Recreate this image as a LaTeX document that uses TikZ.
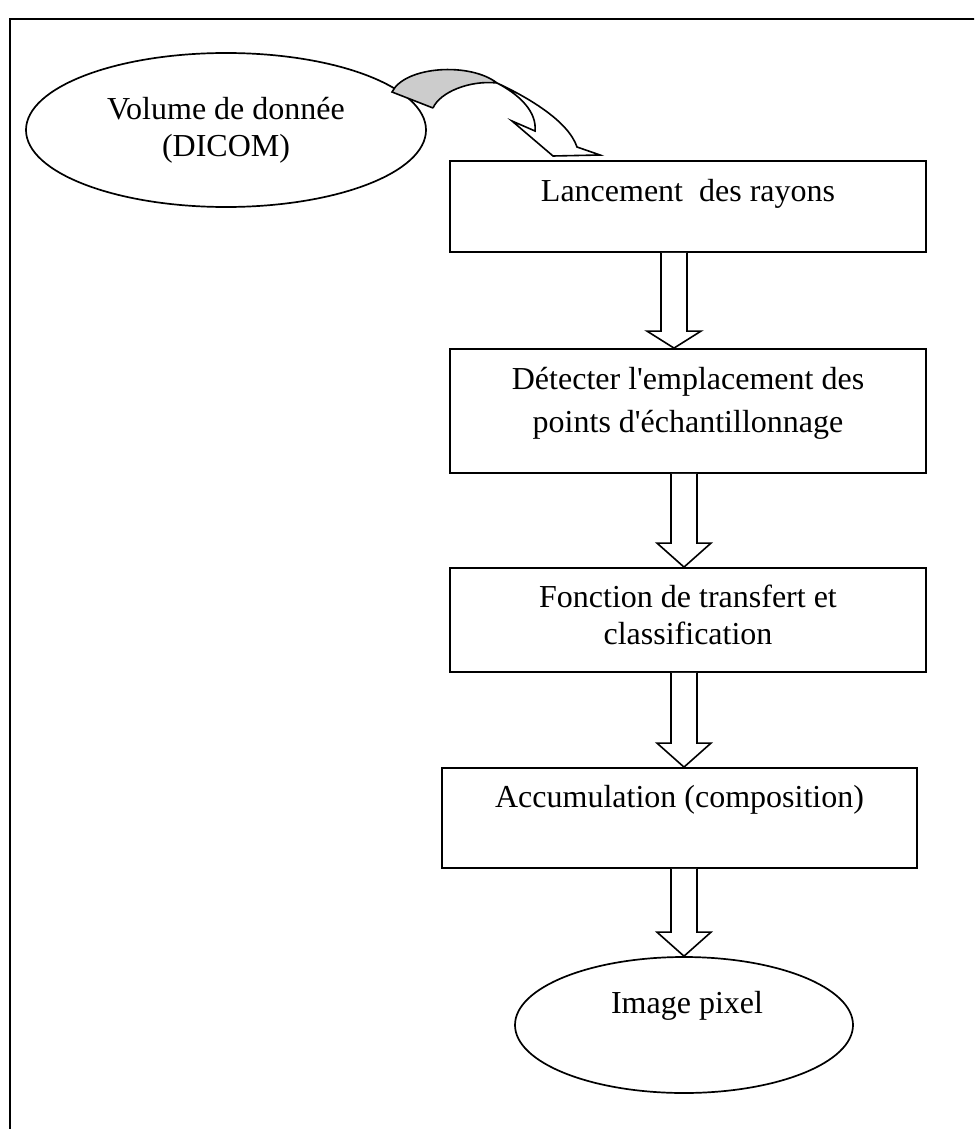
\documentclass[tikz,border=0pt]{standalone}
\usepackage{fontspec}
\setmainfont{Liberation Serif}[Ligatures=TeXOff]
\usetikzlibrary{shapes.geometric,calc}

\tikzset{
  stepbox/.style={draw, line width=1.8pt, rectangle, minimum width=476pt, inner sep=0pt},
  oval/.style={draw, line width=1.7pt, ellipse, inner sep=0pt, align=center},
  boxtext/.style={anchor=base, inner sep=0pt, align=center},
  hollow/.style={draw, line width=1.6pt, fill=white, line join=miter},
}

% hollow block arrow: from node, to node, axis coordinate, head length
\newcommand{\hollowdown}[4]{%
  \draw[hollow] ($(#3|-#1.south)+(-13,0)$) -- ($(#3|-#2.north)+(-13,-#4)$)
    -- ($(#3|-#2.north)+(-27,-#4)$) -- (#3|-#2.north)
    -- ($(#3|-#2.north)+(27,-#4)$) -- ($(#3|-#2.north)+(13,-#4)$)
    -- ($(#3|-#1.south)+(13,0)$);}

\begin{document}
\begin{tikzpicture}[x=1pt, y=-1pt, font=\fontsize{32}{37}\selectfont]
            \useasboundingbox (0,0) rectangle (974,1129);
            \clip (0,0) rectangle (974,1129);
            % outer frame
            \draw[line width=2pt] (10,19) rectangle (990,1140);

            % input data
            \node[oval, minimum width=400pt, minimum height=154pt] (vol) at (226,130) {Volume de donnée\\(DICOM)};

            % the steps (text sits at the top of each box)
            \node[stepbox, minimum height=91pt] (b1) at (688,206.5) {};
            \node[boxtext] at ($(b1.north)+(0,41)$) {Lancement~ des rayons};
            \node[stepbox, minimum height=124pt] (b2) at (688,411) {};
            \node[boxtext, font=\fontsize{32}{43}\selectfont] at ($(b2.north)+(0,84)$) {Détecter l'emplacement des\\points d'échantillonnage};
            \node[stepbox, minimum height=104pt] (b3) at (688,620) {};
            \node[boxtext] at ($(b3.north)+(0,77)$) {Fonction de transfert et\\classification};
            \node[stepbox, minimum width=475pt, minimum height=100pt] (b4) at (679.5,818) {};
            \node[boxtext] at ($(b4.north)+(0,40)$) {Accumulation (composition)};

            % output
            \node[oval, minimum width=338pt, minimum height=136pt] (img) at (684,1025) {};
            \node[boxtext] at ($(img.north)+(3,57)$) {Image pixel};

            % block arrows between the steps
            \coordinate (ax1) at (674,0);
            \coordinate (ax2) at (684,0);
            \hollowdown{b1}{b2}{ax1}{17}
            \hollowdown{b2}{b3}{ax2}{24}
            \hollowdown{b3}{b4}{ax2}{24}
            \hollowdown{b4}{img}{ax2}{24}

            % curved arrow from the data to the first step
            \fill[white] (497,83) .. controls (525,96) and (568,120) .. (577,147) -- (600,155) -- (553,156) -- (512,121) -- (535,131) .. controls (537,112) and (520,95) .. (497,83);
            \fill[gray!40] (392,92) .. controls (405,66) and (470,62) .. (497,83) .. controls (470,80) and (440,92) .. (433,108) -- cycle;
            \draw[line width=1.6pt, line join=miter] (433,108) -- (392,92) .. controls (405,66) and (470,62) .. (497,83)
              .. controls (525,96) and (568,120) .. (577,147) -- (600,155) -- (553,156) -- (512,121) -- (535,131)
              .. controls (537,112) and (520,95) .. (497,83) .. controls (470,80) and (440,92) .. (433,108);
          \end{tikzpicture}
\end{document}
